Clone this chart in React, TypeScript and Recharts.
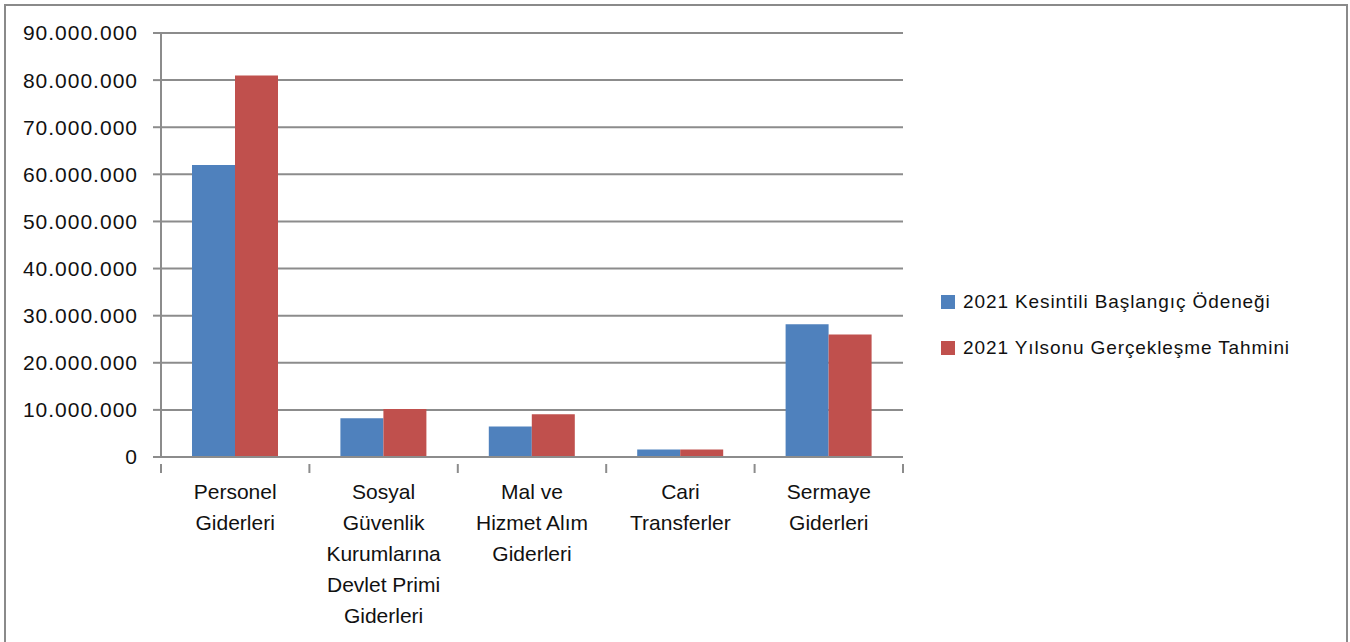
import { BarChart, Bar, XAxis, YAxis, CartesianGrid, Legend } from 'recharts';

const categories = [
  'Personel\nGiderleri',
  'Sosyal\nGüvenlik\nKurumlarına\nDevlet Primi\nGiderleri',
  'Mal ve\nHizmet Alım\nGiderleri',
  'Cari\nTransferler',
  'Sermaye\nGiderleri',
];
const baslangicOdenegi = [62000000, 8200000, 6500000, 1600000, 28200000];
const yilsonuTahmini = [81000000, 10200000, 9100000, 1600000, 26000000];
const yTicks = [0, 10000000, 20000000, 30000000, 40000000, 50000000, 60000000, 70000000, 80000000, 90000000];

const seriesNames = ['2021 Kesintili Başlangıç Ödeneği', '2021 Yılsonu Gerçekleşme Tahmini'];
const BLUE = '#4F81BD';
const RED = '#C0504D';
const GRID = '#8c8c8c';
const TEXT = '#111';
const FONT = '"Liberation Sans", Arial, sans-serif';

const data = categories.map((name, i) => ({
  name,
  baslangic: baslangicOdenegi[i],
  yilsonu: yilsonuTahmini[i],
}));

// 90000000 -> 90.000.000
const formatTr = (v: number) => String(v).replace(/\B(?=(\d{3})+(?!\d))/g, '.');

const CategoryTick = (props: any) => {
  const { x, y, payload, width, index } = props;
  const band = width / data.length;
  const lines = String(payload.value).split('\n');
  const left = x - band / 2;
  return (
    <g>
      <line x1={left} y1={y - 1} x2={left} y2={y + 8} stroke={GRID} strokeWidth={2} />
      {index === data.length - 1 && (
        <line x1={left + band} y1={y - 1} x2={left + band} y2={y + 8} stroke={GRID} strokeWidth={2} />
      )}
      <text x={x} y={y + 34} textAnchor="middle" fill={TEXT} fontSize={21} fontFamily={FONT}>
        {lines.map((line, i) => (
          <tspan key={i} x={x} dy={i === 0 ? 0 : 31}>
            {line}
          </tspan>
        ))}
      </text>
    </g>
  );
};

const LegendContent = () => (
  <div style={{ fontFamily: FONT, fontSize: 19, color: TEXT }}>
    {seriesNames.map((name, i) => (
      <div key={name} style={{ display: 'flex', alignItems: 'center', height: 46 }}>
        <div style={{ width: 14, height: 14, background: i === 0 ? BLUE : RED, marginRight: 8 }} />
        <span style={{ letterSpacing: 0.9 }}>{name}</span>
      </div>
    ))}
  </div>
);

export default function App() {
  return (
    <div style={{ position: 'absolute', left: 0, top: 0, width: 1350, height: 642, overflow: 'hidden', background: '#fff' }}>
      <div
        style={{
          position: 'absolute',
          left: 4,
          top: 4,
          width: 1340,
          height: 660,
          border: '2px solid #8a8a8a',
        }}
      />
      <div style={{ position: 'absolute', left: 0, top: 0 }}>
        <BarChart
          width={1350}
          height={642}
          data={data}
          margin={{ top: 33, right: 447, bottom: 0, left: 0 }}
          barSize={43}
          barGap={0}
        >
          <CartesianGrid vertical={false} stroke={GRID} strokeWidth={2} />
          <XAxis
            dataKey="name"
            interval={0}
            tickLine={false}
            axisLine={{ stroke: GRID, strokeWidth: 2 }}
            tick={<CategoryTick />}
            height={185}
          />
          <YAxis
            width={161}
            domain={[0, 90000000]}
            ticks={yTicks}
            interval={0}
            tickFormatter={formatTr}
            axisLine={{ stroke: GRID, strokeWidth: 2 }}
            tickLine={{ stroke: GRID, strokeWidth: 2 }}
            tickSize={8}
            tickMargin={15}
            tick={{ fill: TEXT, fontSize: 21, fontFamily: FONT, letterSpacing: 1 }}
          />
          <Legend
            layout="vertical"
            verticalAlign="middle"
            align="center"
            content={<LegendContent />}
            wrapperStyle={{ left: 941, top: 279, width: 400 }}
          />
          <Bar dataKey="baslangic" name={seriesNames[0]} fill={BLUE} isAnimationActive={false} />
          <Bar dataKey="yilsonu" name={seriesNames[1]} fill={RED} isAnimationActive={false} />
        </BarChart>
      </div>
    </div>
  );
}
